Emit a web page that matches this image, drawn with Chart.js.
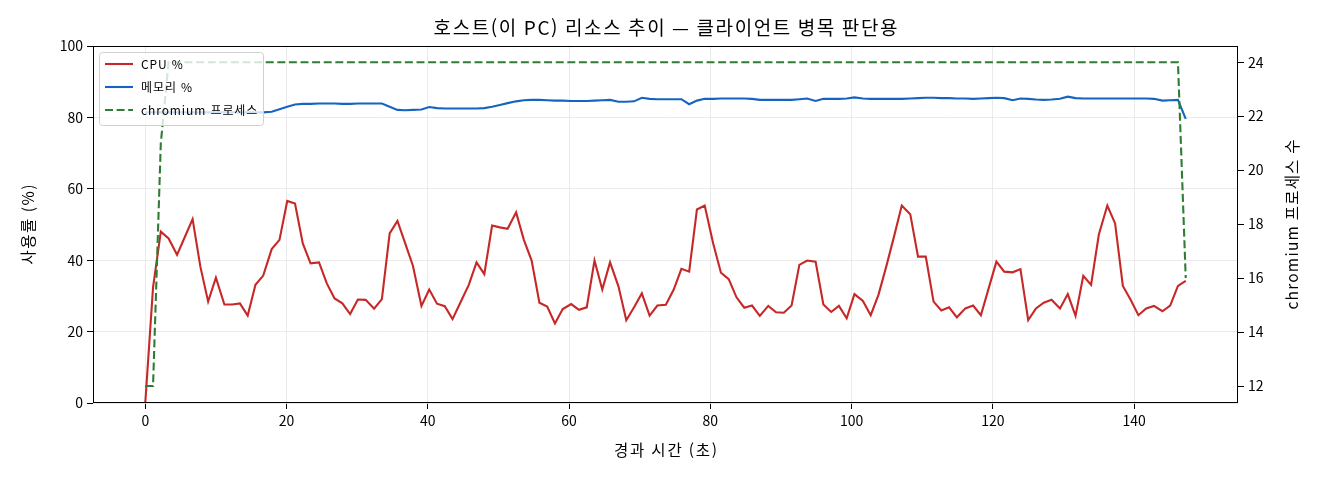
<!DOCTYPE html>
<html lang="ko">
<head>
<meta charset="utf-8">
<title>호스트(이 PC) 리소스 추이</title>
<script src="https://cdn.jsdelivr.net/npm/chart.js@4.4.1/dist/chart.umd.min.js"></script>
<style>
  html, body { margin: 0; padding: 0; background: #fff; }
  #wrap { width: 1320px; height: 480px; position: relative; }
</style>
</head>
<body>
<div id="wrap"><canvas id="hostChart"></canvas></div>
<script>
// 경과 시간 (초) - 샘플 간격 약 1.1초
const elapsedSec = [
  0.0, 1.1, 2.2, 3.3, 4.5, 5.6, 6.7, 7.8, 8.9, 10.0, 11.2, 12.3, 13.4, 14.5, 15.6, 16.7, 17.9, 19.0, 20.1, 21.2,
  22.3, 23.4, 24.6, 25.7, 26.8, 27.9, 29.0, 30.1, 31.2, 32.4, 33.5, 34.6, 35.7, 36.8, 37.9, 39.1, 40.2, 41.3, 42.4, 43.5,
  44.6, 45.8, 46.9, 48.0, 49.1, 50.2, 51.3, 52.5, 53.6, 54.7, 55.8, 56.9, 58.0, 59.1, 60.3, 61.4, 62.5, 63.6, 64.7, 65.8,
  67.0, 68.1, 69.2, 70.3, 71.4, 72.5, 73.7, 74.8, 75.9, 77.0, 78.1, 79.2, 80.4, 81.5, 82.6, 83.7, 84.8, 85.9, 87.0, 88.2,
  89.3, 90.4, 91.5, 92.6, 93.7, 94.9, 96.0, 97.1, 98.2, 99.3, 100.4, 101.6, 102.7, 103.8, 104.9, 106.0, 107.1, 108.3, 109.4, 110.5,
  111.6, 112.7, 113.8, 114.9, 116.1, 117.2, 118.3, 119.4, 120.5, 121.6, 122.8, 123.9, 125.0, 126.1, 127.2, 128.3, 129.5, 130.6, 131.7, 132.8,
  133.9, 135.0, 136.2, 137.3, 138.4, 139.5, 140.6, 141.7, 142.8, 144.0, 145.1, 146.2, 147.3
];

const cpuPct = [
  0, 32.4, 48.0, 46.1, 41.5, 46.5, 51.5, 38.2, 28.4, 35.1, 27.6, 27.6, 27.9, 24.5, 33.1, 35.7, 43.1, 45.7, 56.6, 55.9,
  44.7, 39.1, 39.4, 33.5, 29.3, 27.9, 24.9, 29.0, 28.9, 26.4, 29.1, 47.5, 51.0, 44.7, 38.4, 27.2, 31.8, 27.8, 27.1, 23.5,
  28.1, 33.1, 39.4, 36.1, 49.7, 49.2, 48.8, 53.4, 45.7, 39.9, 28.1, 27.0, 22.3, 26.3, 27.7, 26.1, 26.8, 39.9, 31.8, 39.4,
  32.6, 23.2, 26.8, 30.7, 24.5, 27.3, 27.5, 31.7, 37.6, 36.8, 54.2, 55.3, 44.7, 36.5, 34.7, 29.6, 26.7, 27.3, 24.4, 27.2,
  25.4, 25.3, 27.3, 38.7, 39.9, 39.6, 27.6, 25.5, 27.2, 23.7, 30.5, 28.6, 24.6, 30.3, 38.2, 46.6, 55.3, 52.9, 41.0, 41.0,
  28.4, 25.9, 26.8, 24.0, 26.5, 27.3, 24.6, 32.1, 39.6, 36.8, 36.6, 37.5, 23.2, 26.5, 28.1, 28.9, 26.5, 30.5, 24.4, 35.6,
  33.1, 47.2, 55.3, 50.3, 32.8, 28.9, 24.6, 26.5, 27.2, 25.7, 27.3, 32.8, 34.2
];

const memPct = [
  81.4, 81.4, 81.4, 81.4, 81.4, 81.4, 81.4, 81.4, 81.4, 81.4, 81.4, 81.4, 81.4, 81.4, 81.4, 81.4, 81.6, 82.3, 83.0, 83.6,
  83.8, 83.8, 83.9, 83.9, 83.9, 83.8, 83.8, 83.9, 83.9, 83.9, 83.9, 83.0, 82.1, 82.0, 82.1, 82.2, 82.9, 82.6, 82.5, 82.5,
  82.5, 82.5, 82.5, 82.6, 83.0, 83.5, 84.0, 84.5, 84.8, 84.9, 84.9, 84.8, 84.7, 84.7, 84.6, 84.6, 84.6, 84.7, 84.8, 84.9,
  84.4, 84.4, 84.5, 85.5, 85.2, 85.1, 85.1, 85.1, 85.1, 83.7, 84.7, 85.2, 85.2, 85.3, 85.3, 85.3, 85.3, 85.2, 84.9, 84.9,
  84.9, 84.9, 84.9, 85.1, 85.3, 84.6, 85.2, 85.2, 85.2, 85.3, 85.6, 85.3, 85.2, 85.2, 85.2, 85.2, 85.2, 85.3, 85.4, 85.5,
  85.5, 85.4, 85.4, 85.3, 85.3, 85.2, 85.3, 85.4, 85.5, 85.4, 84.8, 85.3, 85.2, 85.0, 84.9, 85.0, 85.2, 85.8, 85.4, 85.3,
  85.3, 85.3, 85.3, 85.3, 85.3, 85.3, 85.3, 85.3, 85.2, 84.7, 84.8, 84.9, 79.6
];

const chromiumProcs = [
  12, 12, 21, 24, 24, 24, 24, 24, 24, 24, 24, 24, 24, 24, 24, 24, 24, 24, 24, 24,
  24, 24, 24, 24, 24, 24, 24, 24, 24, 24, 24, 24, 24, 24, 24, 24, 24, 24, 24, 24,
  24, 24, 24, 24, 24, 24, 24, 24, 24, 24, 24, 24, 24, 24, 24, 24, 24, 24, 24, 24,
  24, 24, 24, 24, 24, 24, 24, 24, 24, 24, 24, 24, 24, 24, 24, 24, 24, 24, 24, 24,
  24, 24, 24, 24, 24, 24, 24, 24, 24, 24, 24, 24, 24, 24, 24, 24, 24, 24, 24, 24,
  24, 24, 24, 24, 24, 24, 24, 24, 24, 24, 24, 24, 24, 24, 24, 24, 24, 24, 24, 24,
  24, 24, 24, 24, 24, 24, 24, 24, 24, 24, 24, 24, 16
];

const xTicks = [0, 20, 40, 60, 80, 100, 120, 140];
const leftTicks = [0, 20, 40, 60, 80, 100];
const rightTicks = [12, 14, 16, 18, 20, 22, 24];

const FONT = '"Noto Sans CJK KR", "Noto Sans", sans-serif';
Chart.defaults.font.family = FONT;
Chart.defaults.color = '#000';

function toPoints(ys) {
  return elapsedSec.map((t, i) => ({ x: t, y: ys[i] }));
}

// 약간 넓은 자간의 글자 (원본 글꼴 폭에 맞춤)
function spacedText(ctx, text, x, y, size, spacing, rotate) {
  ctx.save();
  ctx.translate(x, y);
  if (rotate) ctx.rotate(-Math.PI / 2);
  ctx.font = size + 'px ' + FONT;
  ctx.letterSpacing = spacing + 'px';
  ctx.fillStyle = '#000';
  ctx.textAlign = 'center';
  ctx.textBaseline = 'middle';
  ctx.fillText(text, spacing / 2, 0);
  ctx.restore();
}

// 축 테두리, 제목들, 범례 (matplotlib 스타일로 직접 그림)
const frameAndLegend = {
  id: 'frameAndLegend',
  afterDraw(chart) {
    const { ctx, chartArea: a } = chart;
    const midX = (a.left + a.right) / 2, midY = (a.top + a.bottom) / 2;
    ctx.save();
    ctx.strokeStyle = '#000';
    ctx.lineWidth = 1;
    ctx.setLineDash([]);
    ctx.strokeRect(a.left + 0.5, a.top + 0.5, a.right - a.left - 1, a.bottom - a.top - 1);

    spacedText(ctx, '호스트(이 PC) 리소스 추이 — 클라이언트 병목 판단용', midX, 28, 19, 1.6, false);
    spacedText(ctx, '경과 시간 (초)', midX, 450, 15.5, 1.8, false);
    spacedText(ctx, '사용률 (%)', 28, midY, 15.5, 1.5, true);
    spacedText(ctx, 'chromium 프로세스 수', 1292, midY, 15.5, 1.2, true);

    // 범례 박스
    const bx = a.left + 6, by = a.top + 6, bw = 164, bh = 73;
    ctx.beginPath();
    ctx.roundRect(bx + 0.5, by + 0.5, bw, bh, 3);
    ctx.fillStyle = 'rgba(255,255,255,0.8)';
    ctx.fill();
    ctx.strokeStyle = '#d0d0d0';
    ctx.lineWidth = 1;
    ctx.stroke();

    const entries = [chart.data.datasets[0], chart.data.datasets[1], chart.data.datasets[2]];
    ctx.font = '12px ' + FONT;
    ctx.letterSpacing = '0.9px';
    ctx.textBaseline = 'middle';
    ctx.textAlign = 'left';
    entries.forEach((ds, r) => {
      const y = by + 12 + r * 23;
      ctx.beginPath();
      ctx.strokeStyle = ds.borderColor;
      ctx.lineWidth = ds.borderWidth;
      ctx.setLineDash(ds.borderDash || []);
      ctx.moveTo(bx + 6, y);
      ctx.lineTo(bx + 34, y);
      ctx.stroke();
      ctx.fillStyle = '#000';
      ctx.fillText(ds.label, bx + 42, y);
    });
    ctx.restore();
  }
};

const ctx = document.getElementById('hostChart').getContext('2d');

new Chart(ctx, {
  type: 'line',
  data: {
    datasets: [
      {
        label: 'CPU %',
        data: toPoints(cpuPct),
        yAxisID: 'y',
        borderColor: '#c62828',
        borderWidth: 2.1,
        order: 1
      },
      {
        label: '메모리 %',
        data: toPoints(memPct),
        yAxisID: 'y',
        borderColor: '#1565c0',
        borderWidth: 2.1,
        order: 2
      },
      {
        label: 'chromium 프로세스',
        data: toPoints(chromiumProcs),
        yAxisID: 'y2',
        borderColor: '#2e7d32',
        borderWidth: 2.1,
        borderDash: [8, 3.6],
        order: 0
      }
    ]
  },
  options: {
    responsive: true,
    maintainAspectRatio: false,
    animation: false,
    events: [],
    elements: {
      point: { radius: 0 },
      line: { tension: 0, fill: false }
    },
    layout: { padding: { top: 46, left: 0, right: 0, bottom: 0 } },
    plugins: {
      legend: { display: false },
      tooltip: { enabled: false }
    },
    scales: {
      x: {
        type: 'linear',
        min: -7.4,
        max: 154.7,
        afterBuildTicks: s => { s.ticks = xTicks.map(v => ({ value: v })); },
        afterFit: s => { s.height = 77; },
        grid: { color: '#e6e6e6', lineWidth: 0.8, tickColor: '#000', tickLength: 6, tickWidth: 1 },
        border: { display: false },
        ticks: { font: { size: 14 }, padding: 3, maxRotation: 0 }
      },
      y: {
        position: 'left',
        min: 0,
        max: 100,
        afterBuildTicks: s => { s.ticks = leftTicks.map(v => ({ value: v })); },
        afterFit: s => { s.width = 93; },
        grid: { color: '#e6e6e6', lineWidth: 0.8, tickColor: '#000', tickLength: 6, tickWidth: 1 },
        border: { display: false },
        ticks: { font: { size: 14 }, padding: 4 }
      },
      y2: {
        position: 'right',
        min: 11.37,
        max: 24.6,
        afterBuildTicks: s => { s.ticks = rightTicks.map(v => ({ value: v })); },
        afterFit: s => { s.width = 82; },
        grid: { drawOnChartArea: false, tickColor: '#000', tickLength: 6, tickWidth: 1 },
        border: { display: false },
        ticks: { font: { size: 14 }, padding: 4 }
      }
    }
  },
  plugins: [frameAndLegend]
});
</script>
</body>
</html>
